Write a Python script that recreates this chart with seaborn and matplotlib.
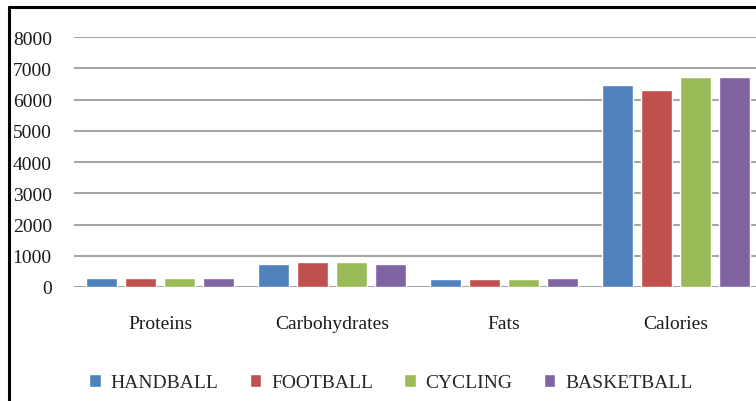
import matplotlib.pyplot as plt
import pandas as pd
import seaborn as sns
from matplotlib.lines import Line2D

# Valores
nutrientes = ['Proteins', 'Carbohydrates', 'Fats', 'Calories']
desportos = ['HANDBALL', 'FOOTBALL', 'CYCLING', 'BASKETBALL']
handball = [290, 735, 255, 6470]
football = [290, 800, 255, 6290]
cycling = [290, 800, 255, 6735]
basketball = [290, 735, 290, 6735]
cores = ['#4F81BD', '#C0504D', '#9BBB59', '#8064A2']
y_ticks = [0, 1000, 2000, 3000, 4000, 5000, 6000, 7000, 8000]

linhas = []
for desporto, valores in zip(desportos, [handball, football, cycling, basketball]):
    for nutriente, v in zip(nutrientes, valores):
        linhas.append({'nutriente': nutriente, 'desporto': desporto, 'valor': v})
df = pd.DataFrame(linhas)

sns.set_theme(style="white")
plt.rcParams['font.family'] = ['Liberation Serif', 'DejaVu Serif']

fig = plt.figure(figsize=(7.56, 4.02), dpi=100)
ax = fig.add_axes([74 / 756, 114 / 402, 688 / 756, 250 / 402])

sns.barplot(data=df, x='nutriente', y='valor', hue='desporto', order=nutrientes,
            hue_order=desportos, palette=cores, width=0.9, gap=0.2,
            errorbar=None, saturation=1, ax=ax)

ax.set_ylim(0, 8000)
ax.set_yticks(y_ticks)
ax.set_xlim(-0.5, 3.5)
ax.yaxis.grid(True, color='#A6A6A6', linewidth=1.5)
ax.set_axisbelow(True)
for s in ax.spines.values():
    s.set_visible(False)
ax.set_xlabel('')
ax.set_ylabel('')
ax.tick_params(axis='y', length=0, pad=16, labelsize=14, labelcolor='#1a1a1a')
ax.tick_params(axis='x', length=0, pad=20, labelsize=14, labelcolor='#1a1a1a')

handles, labels = ax.get_legend_handles_labels()
ax.get_legend().remove()
fig.legend(handles, labels, loc='center', bbox_to_anchor=(0.517, 0.045), ncol=4,
           frameon=False, fontsize=14, handlelength=0.6, handleheight=0.6,
           handletextpad=0.5, columnspacing=1.6)

# moldura preta à esquerda e em cima
fig.add_artist(Line2D([8.5 / 756, 8.5 / 756], [0, 394 / 402], color='black', linewidth=2.2,
                      transform=fig.transFigure))
fig.add_artist(Line2D([8.5 / 756, 1], [394 / 402, 394 / 402], color='black', linewidth=2.2,
                      transform=fig.transFigure))

fig.savefig('out.png', dpi=100)
